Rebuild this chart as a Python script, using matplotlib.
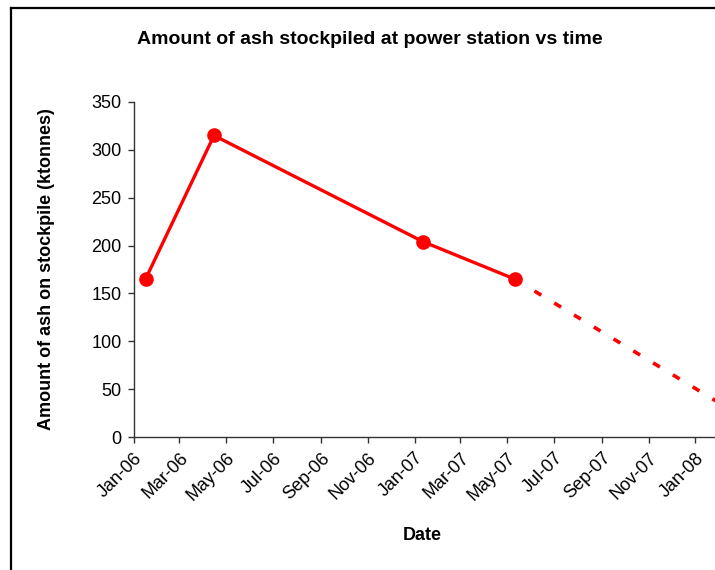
import datetime as dt
import matplotlib
matplotlib.use("Agg")
import matplotlib.pyplot as plt
import matplotlib.dates as mdates
from matplotlib.lines import Line2D

# measured stockpile points
dates = [dt.date(2006, 1, 16), dt.date(2006, 4, 15), dt.date(2007, 1, 12), dt.date(2007, 5, 11)]
ash_kt = [165, 315, 204, 165]

# projected run-down (dotted), visible part only
proj_dates = [dt.date(2007, 5, 11), dt.date(2008, 1, 29)]
proj_kt = [165, 37]

title = "Amount of ash stockpiled at power station vs time"
xlabel = "Date"
ylabel = "Amount of ash on stockpile (ktonnes)"

plt.rcParams["font.family"] = ["Liberation Sans", "DejaVu Sans"]

fig = plt.figure(figsize=(7.15, 5.7), dpi=100)
ax = fig.add_axes([134 / 715, (570 - 437) / 570, (717 - 134) / 715, (437 - 102) / 570])

red = "#ff0000"
ax.plot(dates, ash_kt, color=red, lw=2.4, marker="o", ms=9.5, zorder=3)
ax.plot(proj_dates, proj_kt, color=red, lw=2.6, linestyle=(0, (2.2, 4.2)), zorder=2)

ax.set_xlim(dt.date(2006, 1, 1), proj_dates[-1])
ax.set_ylim(0, 350)
ax.set_yticks(range(0, 351, 50))
ax.xaxis.set_major_locator(mdates.MonthLocator(bymonth=[1, 3, 5, 7, 9, 11]))
ax.xaxis.set_major_formatter(mdates.DateFormatter("%b-%y"))

for s in ["top", "right"]:
    ax.spines[s].set_visible(False)
for s in ["left", "bottom"]:
    ax.spines[s].set_color("#333333")
    ax.spines[s].set_linewidth(1.0)
ax.tick_params(direction="out", length=4, width=1, colors="#333333", labelcolor="black", labelsize=13)
ax.tick_params(axis="x", pad=5)
ax.tick_params(axis="y", pad=5)
plt.setp(ax.get_xticklabels(), rotation=45, ha="right", rotation_mode="anchor")

ax.set_xlabel(xlabel, fontsize=13, fontweight="bold", va="center")
ax.xaxis.set_label_coords((422 - 134) / 583, -(535 - 437) / 335)
ax.set_ylabel(ylabel, fontsize=13, fontweight="bold", va="center")
ax.yaxis.set_label_coords((47 - 134) / 583, 0.5)
fig.text(370 / 715, 1 - 39 / 570, title, ha="center", va="center", fontsize=14, fontweight="bold")

# chart-area frame (only left and top edges are in view)
fig.add_artist(Line2D([11 / 715, 11 / 715], [0, 1 - 8 / 570], color="black", lw=1.6, transform=fig.transFigure))
fig.add_artist(Line2D([11 / 715, 1], [1 - 8 / 570, 1 - 8 / 570], color="black", lw=1.6, transform=fig.transFigure))

fig.savefig("out.png", dpi=100)
